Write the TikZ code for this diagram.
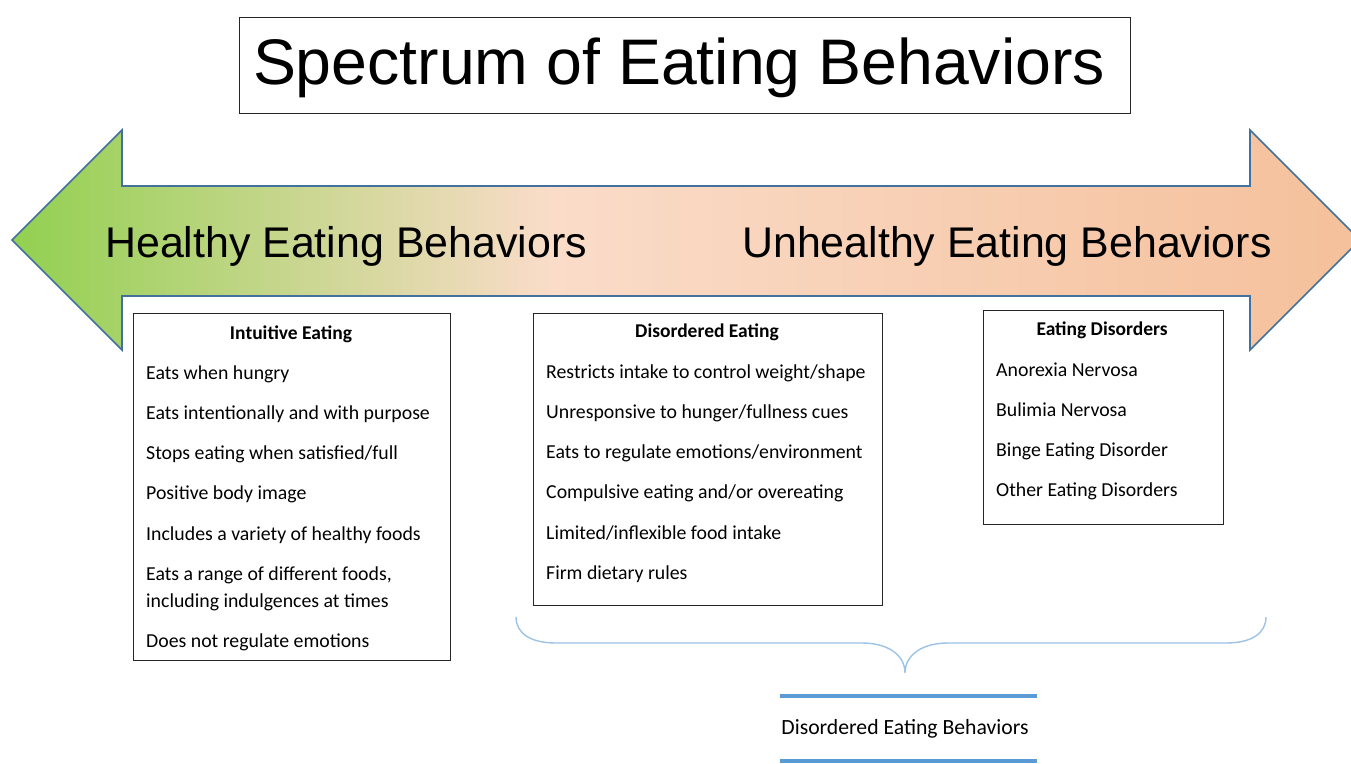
\documentclass[tikz,border=0pt]{standalone}
\usepackage{fontspec}
\setmainfont{Liberation Sans}
\newfontfamily\bodyfont{Carlito}
\definecolor{leafgreen}{RGB}{146,208,80}
\definecolor{peachlight}{RGB}{250,220,201}
\definecolor{peachdark}{RGB}{245,192,155}
\definecolor{arrowline}{RGB}{65,113,156}
\definecolor{bracecol}{RGB}{157,195,230}
\definecolor{rulecol}{RGB}{91,155,213}
\pgfdeclarehorizontalshading{spectrum}{100bp}{color(0bp)=(leafgreen); color(25bp)=(leafgreen); color(45bp)=(peachlight); color(75bp)=(peachdark); color(100bp)=(peachdark)}
\begin{document}
\begin{tikzpicture}[x=1pt,y=-1pt,
  listbox/.style={draw=black!85,line width=1pt,anchor=north west,inner sep=0pt},
  head/.style={font=\bodyfont\fontsize{19.5}{22}\selectfont\bfseries,anchor=base,inner sep=0pt},
  item/.style={font=\bodyfont\fontsize{19.8}{22}\selectfont,anchor=base west,inner sep=0pt},
  bigtext/.style={font=\fontsize{42.9}{48}\selectfont,anchor=base west,inner sep=0pt}]
\useasboundingbox[fill=white] (0,0) rectangle (1351,763);
\clip (0,0) rectangle (1351,763);

% title
\node[draw=black!85,line width=1pt,minimum width=891pt,minimum height=96pt,anchor=north west,inner sep=0pt] (titlebox) at (239,17) {};
\node[font=\fontsize{64.4}{70}\selectfont,anchor=base,inner sep=0pt] (title) at (679,84) {Spectrum of Eating Behaviors};

% double-headed spectrum arrow
\path[shading=spectrum,draw=arrowline,line width=1.6pt,line join=miter]
  (12,240) -- (122,130) -- (122,186) -- (1250,186) -- (1250,130) -- (1360,240)
  -- (1250,350) -- (1250,296) -- (122,296) -- (122,350) -- cycle;
\node[bigtext] (healthy) at (105,257) {Healthy Eating Behaviors};
\node[bigtext] (unhealthy) at (742,257) {Unhealthy Eating Behaviors};

% intuitive eating
\node[listbox,minimum width=317pt,minimum height=347pt,fill=white] (ie) at (133,313) {};
\node[head] (iehead) at (291,339) {Intuitive Eating};
\foreach \t/\y in {Eats when hungry/379, Eats intentionally and with purpose/419,
  Stops eating when satisfied\slash full/459, Positive body image/499,
  Includes a variety of healthy foods/540, {Eats a range of different foods,}/580,
  including indulgences at times/607, Does not regulate emotions/647}
  \node[item] (ie-\y) at (146,\y) {\t};

% disordered eating
\node[listbox,minimum width=349pt,minimum height=292pt,fill=white] (de) at (533,313) {};
\node[head] (dehead) at (707,337) {Disordered Eating};
\foreach \t/\y in {Restricts intake to control weight\slash shape/378,
  Unresponsive to hunger\slash fullness cues/418,
  Eats to regulate emotions\slash environment/458,
  Compulsive eating and\slash or overeating/498,
  Limited\slash inflexible food intake/539, Firm dietary rules/579}
  \node[item] (de-\y) at (546,\y) {\t};

% eating disorders
\node[listbox,minimum width=240pt,minimum height=214pt,fill=white] (ed) at (983,310) {};
\node[head] (edhead) at (1102,335) {Eating Disorders};
\foreach \t/\y in {Anorexia Nervosa/376, Bulimia Nervosa/416,
  Binge Eating Disorder/456, Other Eating Disorders/496}
  \node[item] (ed-\y) at (996,\y) {\t};

% brace grouping the two right-hand columns
\coordinate (bl) at (516,617);
\coordinate (br) at (1266,617);
\coordinate (btip) at (905,673);
\draw[bracecol,line width=1.4pt]
  (bl) .. controls (516,633) and (530,643) .. (556,643) -- (862,643)
  .. controls (888,643) and (905,655) .. (btip)
  .. controls (905,655) and (922,643) .. (948,643) -- (1226,643)
  .. controls (1252,643) and (1266,633) .. (br);

% caption between rules
\coordinate (r1a) at (780,696); \coordinate (r1b) at (1037,696);
\coordinate (r2a) at (780,761); \coordinate (r2b) at (1037,761);
\draw[rulecol,line width=4pt] (r1a) -- (r1b);
\draw[rulecol,line width=4pt] (r2a) -- (r2b);
\node[font=\bodyfont\fontsize{21.7}{24}\selectfont,anchor=base,inner sep=0pt] (caption) at (905,734) {Disordered Eating Behaviors};
\end{tikzpicture}
\end{document}
